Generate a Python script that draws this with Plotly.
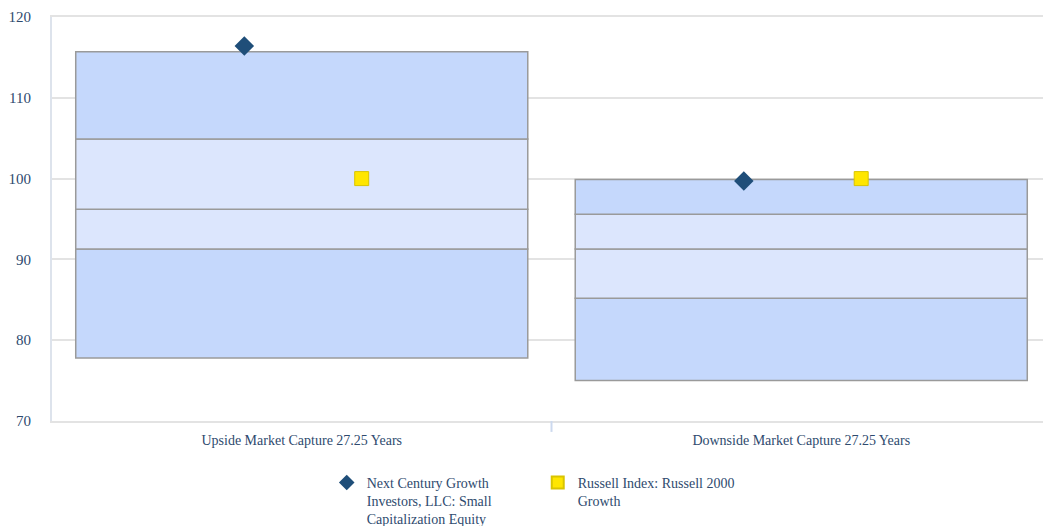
import plotly.graph_objects as go

categories = ["Upside Market Capture 27.25 Years", "Downside Market Capture 27.25 Years"]
p5 = [77.8, 75.0]
p25 = [91.3, 85.2]
median = [96.2, 91.3]
p75 = [104.9, 95.6]
p95 = [115.7, 99.9]
fund_values = [116.4, 99.7]
index_values = [100.0, 100.0]
fund_name = "Next Century Growth<br>Investors, LLC: Small<br>Capitalization Equity"
index_name = "Russell Index: Russell 2000<br>Growth"
y_ticks = [70, 80, 90, 100, 110, 120]

xpos = list(range(len(categories)))
dark = "#c5d8fc"
light = "#dce6fd"
edge = "#9a9a9a"
text_color = "#2e4a6e"
font_family = "Liberation Serif, serif"

fig = go.Figure()
bands = [(p5, p25, dark), (p25, median, light), (median, p75, light), (p75, p95, dark)]
for lo, hi, col in bands:
    fig.add_trace(go.Bar(
        x=xpos, base=lo, y=[h - l for l, h in zip(lo, hi)], width=0.905,
        marker=dict(color=col, line=dict(color=edge, width=1.5)),
        showlegend=False, hoverinfo="skip"))

fig.add_trace(go.Scatter(
    x=[x - 0.115 for x in xpos], y=fund_values, mode="markers", name=fund_name,
    marker=dict(symbol="diamond", size=15, color="#1f4e79", line=dict(width=0))))
fig.add_trace(go.Scatter(
    x=[x + 0.12 for x in xpos], y=index_values, mode="markers", name=index_name,
    marker=dict(symbol="square", size=14, color="#ffe600", line=dict(color="#d9c400", width=1))))

fig.add_shape(type="line", xref="x", yref="paper", x0=0.5, x1=0.5, y0=0, y1=-0.027,
              line=dict(color="#ccd9ee", width=2))

fig.update_layout(
    width=1043, height=518,
    margin=dict(l=44, r=0, t=9, b=105),
    paper_bgcolor="white", plot_bgcolor="white",
    barmode="overlay",
    font=dict(family=font_family, color=text_color, size=14),
    xaxis=dict(range=[-0.5, 1.5], tickvals=xpos, ticktext=categories, showgrid=False,
               zeroline=False, showline=True, mirror=True, linecolor="#e3e3e3", linewidth=2,
               ticks="", ticklabelstandoff=5, tickfont=dict(size=14)),
    yaxis=dict(range=[70, 120], tickvals=y_ticks, showgrid=True, gridcolor="#e3e3e3",
               gridwidth=1.5, zeroline=False, showline=True, linecolor="#dde3ec", linewidth=2,
               ticks="", ticklabelstandoff=16, tickfont=dict(size=15)),
    legend=dict(orientation="h", x=0.275, xanchor="left", yref="container", y=0.114,
                yanchor="top",
                font=dict(size=14, color=text_color), entrywidth=166, entrywidthmode="pixels",
                tracegroupgap=0, itemsizing="constant", valign="top"),
)

fig.write_html("out.html")
